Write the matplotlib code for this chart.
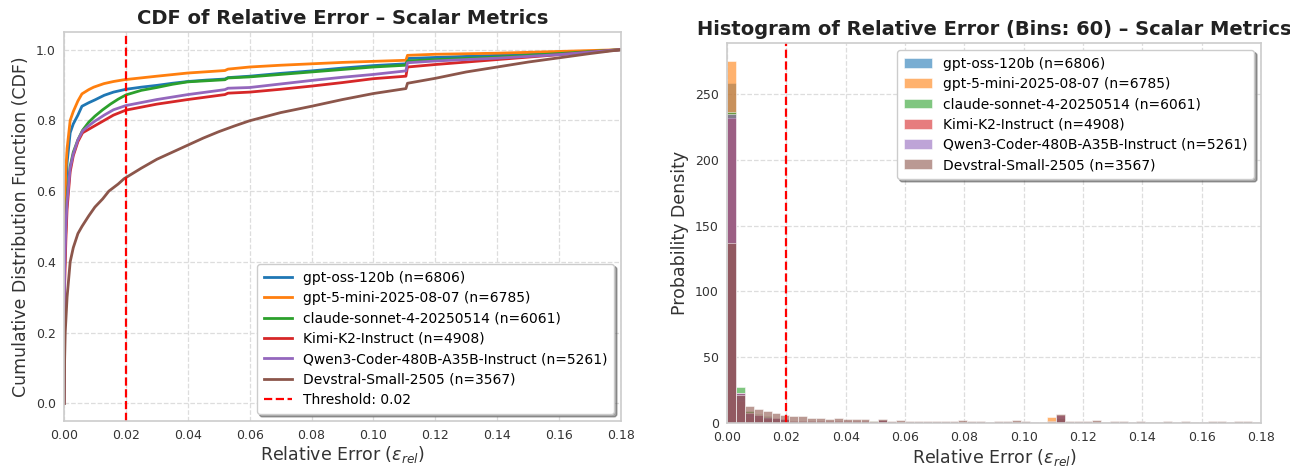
import numpy as np
import matplotlib
matplotlib.use("Agg")
import matplotlib.pyplot as plt

plt.rcParams['font.family'] = ['DejaVu Sans']

# ---------------- data ----------------
models = ["gpt-oss-120b", "gpt-5-mini-2025-08-07", "claude-sonnet-4-20250514",
          "Kimi-K2-Instruct", "Qwen3-Coder-480B-A35B-Instruct", "Devstral-Small-2505"]
counts = [6806, 6785, 6061, 4908, 5261, 3567]
colors = ["#1f77b4", "#ff7f0e", "#2ca02c", "#d62728", "#9467bd", "#8c564b"]
threshold = 0.02

# CDF knots (x = relative error, y = CDF)
cdf_x_gpt_oss = [0, 0.0002, 0.0006, 0.001, 0.002, 0.003, 0.0045, 0.0058, 0.008, 0.01, 0.013, 0.016, 0.02,
                 0.025, 0.03, 0.035, 0.04, 0.046, 0.052, 0.053, 0.06, 0.07, 0.08, 0.09, 0.1, 0.1105, 0.111,
                 0.12, 0.13, 0.14, 0.15, 0.16, 0.17, 0.18]
cdf_y_gpt_oss = [0, 0.45, 0.6, 0.68, 0.765, 0.79, 0.815, 0.84, 0.85, 0.858, 0.871, 0.88, 0.888,
                 0.894, 0.899, 0.905, 0.910, 0.914, 0.917, 0.921, 0.925, 0.933, 0.940, 0.948, 0.955, 0.960, 0.975,
                 0.978, 0.981, 0.984, 0.987, 0.990, 0.995, 1.0]

cdf_x_gpt5 = [0, 0.0002, 0.0006, 0.001, 0.002, 0.003, 0.0045, 0.0058, 0.008, 0.0096, 0.0129, 0.016, 0.0194,
              0.03, 0.04, 0.052, 0.053, 0.06, 0.07, 0.08, 0.09, 0.1, 0.1105, 0.111, 0.12, 0.14, 0.16, 0.18]
cdf_y_gpt5 = [0, 0.55, 0.66, 0.72, 0.8, 0.825, 0.855, 0.875, 0.887, 0.894, 0.904, 0.910, 0.915,
              0.925, 0.934, 0.941, 0.945, 0.951, 0.956, 0.960, 0.964, 0.967, 0.970, 0.984, 0.987, 0.990, 0.995, 1.0]

cdf_x_claude = [0, 0.0002, 0.0006, 0.001, 0.002, 0.003, 0.0045, 0.006, 0.008, 0.01, 0.0125, 0.015, 0.0175,
                0.02, 0.025, 0.03, 0.035, 0.04, 0.052, 0.053, 0.06, 0.07, 0.08, 0.09, 0.1, 0.1105, 0.111,
                0.12, 0.14, 0.16, 0.18]
cdf_y_claude = [0, 0.38, 0.5, 0.58, 0.67, 0.71, 0.745, 0.772, 0.795, 0.812, 0.83, 0.846, 0.86,
                0.872, 0.885, 0.893, 0.902, 0.909, 0.915, 0.92, 0.923, 0.93, 0.937, 0.944, 0.951, 0.956, 0.968,
                0.972, 0.979, 0.989, 1.0]

cdf_x_kimi = [0, 0.0002, 0.0006, 0.001, 0.002, 0.003, 0.0045, 0.006, 0.008, 0.01, 0.013, 0.016, 0.02,
              0.03, 0.04, 0.052, 0.053, 0.06, 0.07, 0.08, 0.09, 0.1, 0.1105, 0.111, 0.12, 0.14, 0.16, 0.18]
cdf_y_kimi = [0, 0.33, 0.46, 0.55, 0.655, 0.70, 0.74, 0.765, 0.775, 0.785, 0.80, 0.815, 0.829,
              0.846, 0.859, 0.873, 0.877, 0.88, 0.888, 0.897, 0.907, 0.918, 0.925, 0.951, 0.958, 0.972, 0.986, 1.0]

cdf_x_qwen = [0, 0.0002, 0.0006, 0.001, 0.002, 0.003, 0.0045, 0.006, 0.008, 0.01, 0.013, 0.016, 0.02,
              0.03, 0.04, 0.052, 0.053, 0.06, 0.07, 0.08, 0.09, 0.1, 0.1105, 0.111, 0.12, 0.14, 0.16, 0.18]
cdf_y_qwen = [0, 0.38, 0.5, 0.57, 0.665, 0.705, 0.745, 0.77, 0.785, 0.798, 0.815, 0.83, 0.842,
              0.859, 0.873, 0.887, 0.891, 0.893, 0.903, 0.913, 0.922, 0.93, 0.94, 0.963, 0.968, 0.976, 0.986, 1.0]

cdf_x_devstral = [0, 0.0002, 0.0004, 0.001, 0.002, 0.003, 0.0045, 0.0058, 0.008, 0.01, 0.0125, 0.0145,
                  0.0175, 0.0194, 0.025, 0.03, 0.035, 0.04, 0.045, 0.05, 0.055, 0.06, 0.07, 0.08, 0.09,
                  0.1, 0.1105, 0.111, 0.12, 0.13, 0.14, 0.15, 0.16, 0.17, 0.18]
cdf_y_devstral = [0, 0.12, 0.2, 0.3, 0.4, 0.44, 0.48, 0.5, 0.53, 0.555, 0.578, 0.6,
                  0.62, 0.635, 0.665, 0.69, 0.71, 0.73, 0.75, 0.768, 0.784, 0.799, 0.822, 0.84, 0.859,
                  0.876, 0.89, 0.905, 0.919, 0.937, 0.951, 0.965, 0.977, 0.989, 1.0]

cdf_x = [cdf_x_gpt_oss, cdf_x_gpt5, cdf_x_claude, cdf_x_kimi, cdf_x_qwen, cdf_x_devstral]
cdf_y = [cdf_y_gpt_oss, cdf_y_gpt5, cdf_y_claude, cdf_y_kimi, cdf_y_qwen, cdf_y_devstral]

# Histogram densities, 60 bins over [0, 0.18]
n_bins = 60
hist_range = (0.0, 0.18)
hist_gpt_oss = [258, 22, 7, 5, 4, 3, 2.5, 1.2, 1.2, 1.1,
                1.1, 1.0, 1.0, 1.0, 0.9, 0.9, 0.8, 1.8, 0.7, 0.7,
                0.7, 0.7, 0.7, 0.7, 0.7, 0.7, 0.7, 0.7, 0.6, 0.6,
                0.6, 0.6, 0.6, 0.6, 0.6, 0.6, 0.6, 5.0, 0.4, 0.4,
                0.4, 0.4, 0.4, 0.4, 0.4, 0.4, 0.4, 0.4, 0.4, 0.4,
                0.4, 0.4, 0.4, 0.3, 0.3, 0.3, 0.3, 0.3, 0.3, 0.3]
hist_gpt5 = [275, 17, 5, 4, 3, 2.5, 2, 1.0, 1.0, 1.0,
             1.0, 0.9, 0.9, 0.9, 0.8, 0.8, 0.8, 1.5, 0.5, 0.5,
             0.5, 0.5, 0.5, 0.5, 0.5, 0.5, 0.5, 0.5, 0.5, 0.5,
             0.5, 0.5, 0.5, 0.5, 0.5, 0.5, 4.8, 4.0, 0.3, 0.3,
             0.3, 0.3, 0.3, 0.3, 0.3, 0.3, 0.3, 0.3, 0.3, 0.3,
             0.3, 0.3, 0.3, 0.2, 0.2, 0.2, 0.2, 0.2, 0.2, 0.2]
hist_claude = [236, 27.4, 9, 7, 5.5, 4, 3, 1.6, 1.6, 1.6,
               1.6, 1.5, 1.5, 1.5, 1.4, 1.4, 1.3, 2.0, 0.7, 0.7,
               0.7, 0.7, 0.7, 0.7, 0.7, 0.7, 0.7, 0.7, 0.6, 0.6,
               0.6, 0.6, 0.6, 0.6, 0.6, 0.6, 0.6, 4.0, 0.5, 0.5,
               0.5, 0.5, 0.5, 0.5, 0.5, 0.5, 0.5, 0.5, 0.4, 0.4,
               0.4, 0.4, 0.4, 0.4, 0.4, 0.4, 0.4, 0.4, 0.4, 0.4]
hist_kimi = [232, 23, 7.5, 6, 4, 3.5, 3, 1.4, 1.4, 1.4,
             1.4, 1.4, 1.3, 1.3, 1.3, 1.3, 1.2, 2.5, 0.9, 0.9,
             0.9, 0.9, 0.9, 0.9, 0.9, 0.9, 0.9, 0.9, 0.9, 0.8,
             0.8, 0.8, 0.8, 0.8, 0.8, 0.8, 0.8, 6.5, 0.7, 0.7,
             0.7, 0.7, 0.7, 0.7, 0.7, 0.7, 0.7, 0.7, 0.7, 0.7,
             0.7, 0.7, 0.7, 0.7, 0.6, 0.6, 0.6, 0.6, 0.6, 0.6]
hist_qwen = [235, 23, 8, 6.5, 5, 3.5, 3, 1.5, 1.5, 1.5,
             1.5, 1.5, 1.4, 1.4, 1.4, 1.3, 1.2, 2.5, 0.9, 0.9,
             0.9, 0.9, 0.9, 0.9, 0.9, 0.9, 0.9, 0.9, 0.9, 0.8,
             0.8, 0.8, 0.8, 0.8, 0.8, 0.8, 0.8, 6.0, 0.55, 0.55,
             0.55, 0.55, 0.55, 0.55, 0.55, 0.55, 0.55, 0.55, 0.55, 0.55,
             0.55, 0.55, 0.55, 0.5, 0.5, 0.5, 0.5, 0.5, 0.5, 0.5]
hist_devstral = [137, 21, 13.2, 10.7, 9.1, 7.6, 6.1, 5.1, 5.6, 3.8,
                 3.6, 3.0, 3.6, 3.0, 3.3, 3.0, 1.8, 3.3, 1.8, 2.5,
                 1.8, 1.8, 1.4, 1.6, 1.8, 1.8, 2.0, 1.8, 1.6, 0.6,
                 1.4, 1.4, 2.0, 1.6, 0.4, 0.6, 1.9, 6.6, 1.4, 1.6,
                 1.6, 2.0, 0.9, 1.4, 1.4, 0.9, 1.4, 0.6, 0.6, 1.4,
                 0.6, 1.6, 0.6, 0.6, 1.4, 1.4, 0.6, 1.4, 1.4, 0.6]
hist_values = [hist_gpt_oss, hist_gpt5, hist_claude, hist_kimi, hist_qwen, hist_devstral]

# ---------------- figure ----------------
fig = plt.figure(figsize=(12.9, 4.67), dpi=100)
ax1 = fig.add_axes([0.0496, 0.0985, 0.4318, 0.833])
ax2 = fig.add_axes([0.5636, 0.094, 0.414, 0.814])

grid_kw = dict(color="#dddddd", linestyle="--", linewidth=0.9)
for ax in (ax1, ax2):
    ax.set_facecolor("white")
    ax.grid(True, **grid_kw)
    ax.set_axisbelow(True)
    for s in ax.spines.values():
        s.set_color("#cccccc")
        s.set_linewidth(1.2)
    ax.tick_params(axis="both", labelsize=9, colors="#333333", length=0, pad=6)

# CDF
for name, n, c, xs, ys in zip(models, counts, colors, cdf_x, cdf_y):
    ax1.plot(xs, ys, color=c, linewidth=2, label=f"{name} (n={n})")
ax1.axvline(threshold, color="red", linestyle="--", linewidth=1.6, label=f"Threshold: {threshold}")
ax1.set_xlim(*hist_range)
ax1.set_xticks(np.arange(0, 0.181, 0.02))
ax1.set_title("CDF of Relative Error – Scalar Metrics", fontsize=14, fontweight="bold", color="#222222", pad=6)
ax1.set_xlabel(r"Relative Error ($\epsilon_{rel}$)", fontsize=12.5, color="#333333", labelpad=1.5)
ax1.set_ylabel("Cumulative Distribution Function (CDF)", fontsize=12.5, color="#333333")
leg1 = ax1.legend(loc="lower right", fontsize=10, frameon=True, shadow=True, fancybox=True,
                  framealpha=1.0, borderpad=0.5, labelspacing=0.46)
leg1.get_frame().set_edgecolor("#cccccc")

# Histogram
edges = np.linspace(hist_range[0], hist_range[1], n_bins + 1)
width = edges[1] - edges[0]
for name, n, c, vals in zip(models, counts, colors, hist_values):
    ax2.bar(edges[:-1], vals, width=width, align="edge", color=c, alpha=0.6,
            edgecolor="white", linewidth=0.6, label=f"{name} (n={n})")
ax2.axvline(threshold, color="red", linestyle="--", linewidth=1.6)
ax2.set_xlim(*hist_range)
ax2.set_xticks(np.arange(0, 0.181, 0.02))
ax2.set_title("Histogram of Relative Error (Bins: 60) – Scalar Metrics", fontsize=14, fontweight="bold",
              color="#222222", pad=6)
ax2.set_xlabel(r"Relative Error ($\epsilon_{rel}$)", fontsize=12.5, color="#333333", labelpad=1.5)
ax2.set_ylabel("Probability Density", fontsize=12.5, color="#333333")
leg2 = ax2.legend(loc="upper right", fontsize=10, frameon=True, shadow=True, fancybox=True,
                  framealpha=1.0, borderpad=0.5, labelspacing=0.45)
leg2.get_frame().set_edgecolor("#cccccc")

fig.savefig("out.png", dpi=100)
